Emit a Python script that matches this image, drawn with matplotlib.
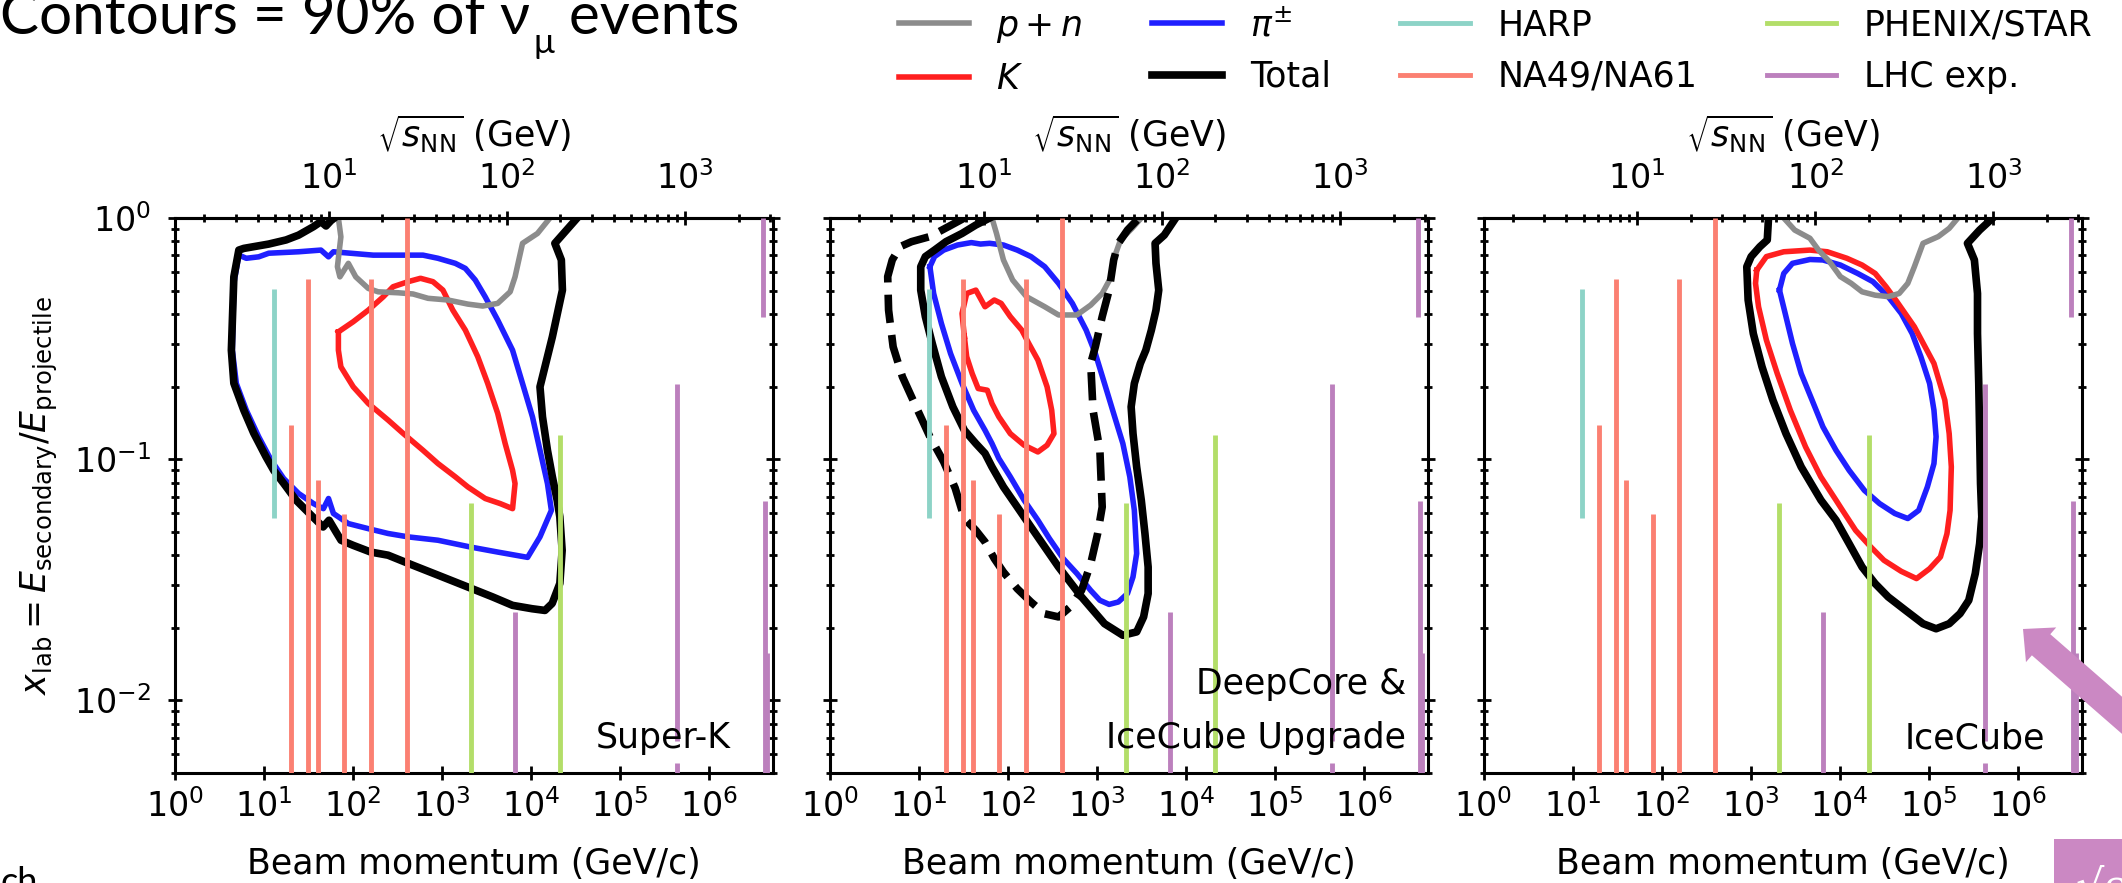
import numpy as np
import matplotlib
matplotlib.use("Agg")
import matplotlib.pyplot as plt
from matplotlib.lines import Line2D
from matplotlib.patches import FancyArrow, Rectangle
from matplotlib.ticker import LogLocator, NullLocator, NullFormatter

# 90% contours, digitised as (log10 beam momentum [GeV/c], log10 x_lab)
superk_pn = [(1.835, 0.0), (1.863, -0.078), (1.824, -0.202), (1.852, -0.244), (1.947, -0.188),
             (2.030, -0.244), (2.171, -0.292), (2.282, -0.306), (2.506, -0.310), (2.673, -0.315),
             (2.842, -0.333), (3.065, -0.340), (3.289, -0.357), (3.456, -0.365), (3.624, -0.354),
             (3.764, -0.306), (3.819, -0.244), (3.903, -0.105), (4.071, -0.064), (4.211, 0.0)]
superk_k = [(1.835, -0.472), (2.002, -0.430), (2.171, -0.382), (2.338, -0.327), (2.449, -0.285),
            (2.618, -0.264), (2.757, -0.250), (2.897, -0.264), (3.009, -0.299), (3.120, -0.382),
            (3.261, -0.465), (3.400, -0.575), (3.512, -0.686), (3.624, -0.810), (3.708, -0.935),
            (3.791, -1.046), (3.819, -1.101), (3.791, -1.205), (3.652, -1.184), (3.484, -1.163),
            (3.289, -1.115), (3.148, -1.073), (2.953, -1.018), (2.785, -0.963), (2.562, -0.893),
            (2.394, -0.838), (2.171, -0.769), (2.002, -0.700), (1.863, -0.617), (1.835, -0.548),
            (1.835, -0.472)]
superk_pi = [(0.717, -0.154), (0.801, -0.167), (0.940, -0.161), (1.053, -0.146), (1.388, -0.140),
             (1.639, -0.133), (1.724, -0.161), (1.779, -0.140), (2.226, -0.154), (2.785, -0.154),
             (2.953, -0.167), (3.148, -0.188), (3.261, -0.209), (3.372, -0.257), (3.484, -0.327),
             (3.624, -0.423), (3.791, -0.548), (3.903, -0.686), (4.015, -0.825), (4.099, -0.963),
             (4.183, -1.101), (4.227, -1.212), (4.099, -1.322), (3.960, -1.407), (3.624, -1.385),
             (3.316, -1.364), (2.953, -1.336), (2.618, -1.322), (2.393, -1.308), (2.171, -1.288),
             (1.947, -1.267), (1.779, -1.225), (1.724, -1.163), (1.667, -1.205), (1.555, -1.184),
             (1.388, -1.142), (1.220, -1.080), (1.080, -1.004), (0.940, -0.907), (0.801, -0.797),
             (0.689, -0.686), (0.644, -0.548), (0.661, -0.271), (0.717, -0.154)]
superk_total = [(1.790, 0.0), (1.751, -0.011), (1.696, -0.033), (1.639, -0.015), (1.555, -0.036),
                (1.388, -0.071), (1.247, -0.091), (1.053, -0.108), (0.773, -0.126), (0.717, -0.133),
                (0.661, -0.244), (0.633, -0.548), (0.661, -0.685), (0.773, -0.797), (0.884, -0.892),
                (1.022, -0.990), (1.108, -1.046), (1.220, -1.100), (1.360, -1.170), (1.528, -1.232),
                (1.663, -1.281), (1.730, -1.253), (1.809, -1.302), (1.865, -1.336), (2.000, -1.357),
                (2.198, -1.385), (2.393, -1.398), (2.674, -1.440), (2.955, -1.481), (3.289, -1.530),
                (3.567, -1.571), (3.791, -1.606), (4.011, -1.620), (4.155, -1.627), (4.236, -1.598),
                (4.322, -1.515), (4.348, -1.378), (4.322, -1.239), (4.292, -1.170), (4.238, -1.073),
                (4.183, -0.963), (4.127, -0.824), (4.099, -0.700), (4.238, -0.493), (4.351, -0.299),
                (4.339, -0.174), (4.266, -0.105), (4.517, 0.0)]

deepcore_pn = [(1.819, 0.0), (1.870, -0.064), (1.948, -0.174), (2.051, -0.257), (2.206, -0.326),
               (2.412, -0.368), (2.567, -0.402), (2.773, -0.402), (2.928, -0.361), (3.057, -0.313),
               (3.160, -0.243), (3.196, -0.160), (3.263, -0.091), (3.392, -0.043), (3.496, 0.0)]
deepcore_k = [(1.509, -0.492), (1.483, -0.396), (1.535, -0.313), (1.638, -0.299), (1.741, -0.368),
              (1.845, -0.340), (1.922, -0.354), (2.025, -0.409), (2.154, -0.465), (2.232, -0.520),
              (2.335, -0.589), (2.438, -0.700), (2.490, -0.797), (2.515, -0.894), (2.438, -0.942),
              (2.335, -0.970), (2.180, -0.942), (2.025, -0.894), (1.896, -0.824), (1.819, -0.769),
              (1.767, -0.714), (1.664, -0.707), (1.597, -0.645), (1.535, -0.575), (1.509, -0.492)]
deepcore_pi = [(1.122, -0.202), (1.174, -0.160), (1.277, -0.133), (1.432, -0.112), (1.587, -0.102),
               (1.690, -0.108), (1.793, -0.105), (1.948, -0.112), (2.103, -0.133), (2.257, -0.160),
               (2.412, -0.202), (2.567, -0.271), (2.722, -0.354), (2.877, -0.465), (2.980, -0.562),
               (3.083, -0.686), (3.186, -0.811), (3.289, -0.935), (3.367, -1.073), (3.418, -1.212),
               (3.444, -1.391), (3.403, -1.488), (3.341, -1.557), (3.238, -1.592), (3.135, -1.602),
               (3.031, -1.585), (2.928, -1.544), (2.773, -1.474), (2.619, -1.412), (2.464, -1.329),
               (2.335, -1.253), (2.180, -1.170), (2.025, -1.073), (1.896, -0.997), (1.819, -0.935),
               (1.741, -0.880), (1.613, -0.797), (1.483, -0.686), (1.354, -0.562), (1.251, -0.437),
               (1.164, -0.313), (1.122, -0.202)]
deepcore_total = [(1.793, 0.0), (1.638, -0.029), (1.483, -0.064), (1.303, -0.098), (1.174, -0.133),
                  (1.071, -0.160), (1.019, -0.202), (1.019, -0.299), (1.071, -0.409), (1.148, -0.520),
                  (1.251, -0.658), (1.380, -0.783), (1.509, -0.880), (1.638, -0.935), (1.741, -0.976),
                  (1.819, -1.032), (1.948, -1.115), (2.103, -1.198), (2.257, -1.281), (2.412, -1.364),
                  (2.567, -1.447), (2.825, -1.571), (3.083, -1.682), (3.289, -1.730), (3.444, -1.716),
                  (3.522, -1.654), (3.573, -1.557), (3.573, -1.447), (3.537, -1.308), (3.496, -1.170),
                  (3.444, -1.032), (3.403, -0.894), (3.382, -0.783), (3.418, -0.686), (3.485, -0.603),
                  (3.547, -0.548), (3.609, -0.465), (3.661, -0.382), (3.692, -0.299), (3.661, -0.188),
                  (3.651, -0.105), (3.754, -0.071), (3.883, 0.0)]
upgrade_total = [(1.509, 0.0), (1.329, -0.036), (1.122, -0.077), (0.916, -0.098), (0.787, -0.119),
                 (0.699, -0.174), (0.648, -0.243), (0.658, -0.382), (0.709, -0.534), (0.813, -0.658),
                 (0.967, -0.783), (1.122, -0.907), (1.277, -1.011), (1.406, -1.120), (1.509, -1.246),
                 (1.638, -1.295), (1.741, -1.343), (1.845, -1.412), (1.948, -1.468), (2.103, -1.537),
                 (2.257, -1.592), (2.412, -1.641), (2.567, -1.654), (2.696, -1.613), (2.825, -1.544),
                 (2.928, -1.433), (3.006, -1.308), (3.057, -1.198), (3.031, -0.963), (2.954, -0.797),
                 (2.928, -0.603), (2.980, -0.534), (3.057, -0.409), (3.135, -0.299), (3.186, -0.174),
                 (3.238, -0.105), (3.341, -0.050), (3.470, 0.0)]

icecube_pn = [(3.372, 0.0), (3.495, -0.050), (3.666, -0.084), (3.763, -0.133), (3.886, -0.181),
              (4.008, -0.243), (4.130, -0.271), (4.252, -0.306), (4.399, -0.320), (4.545, -0.326),
              (4.668, -0.313), (4.765, -0.271), (4.839, -0.202), (4.936, -0.105), (5.108, -0.077),
              (5.230, -0.043), (5.328, 0.0)]
icecube_k = [(3.069, -0.216), (3.177, -0.160), (3.372, -0.140), (3.666, -0.133), (3.861, -0.140),
             (4.081, -0.167), (4.252, -0.195), (4.399, -0.230), (4.521, -0.285), (4.643, -0.347),
             (4.839, -0.451), (5.059, -0.603), (5.181, -0.755), (5.230, -0.894), (5.254, -1.032),
             (5.240, -1.212), (5.205, -1.309), (5.132, -1.405), (5.010, -1.454), (4.863, -1.495),
             (4.692, -1.465), (4.497, -1.419), (4.350, -1.364), (4.179, -1.295), (4.032, -1.212),
             (3.959, -1.170), (3.788, -1.073), (3.617, -0.949), (3.446, -0.797), (3.299, -0.645),
             (3.177, -0.506), (3.089, -0.368), (3.055, -0.271), (3.069, -0.216)]
icecube_pi = [(3.324, -0.299), (3.372, -0.230), (3.470, -0.188), (3.666, -0.172), (3.812, -0.174),
              (4.008, -0.195), (4.203, -0.230), (4.374, -0.264), (4.545, -0.326), (4.692, -0.396),
              (4.814, -0.479), (4.912, -0.575), (5.010, -0.686), (5.059, -0.797), (5.083, -0.907),
              (5.059, -1.018), (4.985, -1.115), (4.888, -1.212), (4.765, -1.246), (4.619, -1.225),
              (4.448, -1.184), (4.277, -1.129), (4.106, -1.046), (3.959, -0.963), (3.812, -0.866),
              (3.690, -0.755), (3.568, -0.645), (3.470, -0.520), (3.397, -0.409), (3.324, -0.299)]
icecube_total = [(3.201, 0.0), (3.187, -0.091), (3.104, -0.119), (3.006, -0.160), (2.957, -0.202),
                 (2.972, -0.340), (3.030, -0.479), (3.128, -0.617), (3.250, -0.755), (3.397, -0.894),
                 (3.568, -1.032), (3.790, -1.170), (3.959, -1.253), (4.106, -1.350), (4.252, -1.447),
                 (4.399, -1.516), (4.545, -1.571), (4.741, -1.627), (4.936, -1.682), (5.083, -1.703),
                 (5.230, -1.682), (5.352, -1.640), (5.450, -1.585), (5.523, -1.474), (5.572, -1.350),
                 (5.596, -1.239), (5.582, -1.101), (5.572, -0.894), (5.562, -0.686), (5.548, -0.479),
                 (5.548, -0.313), (5.513, -0.174), (5.435, -0.105), (5.572, -0.050), (5.719, 0.0)]

# accelerator data coverage: beam momentum (GeV/c) and x_lab range
harp_p = [12.9]
harp_lo = [0.057]
harp_hi = [0.51]
na_p = [20, 31, 40, 80, 158, 400]
na_lo = [1e-3, 1e-3, 1e-3, 1e-3, 1e-3, 1e-3]
na_hi = [0.138, 0.558, 0.082, 0.059, 0.558, 1.0]
rhic_p = [2.1e3, 2.13e4]
rhic_lo = [1e-3, 1e-3]
rhic_hi = [0.066, 0.126]
lhc_p = [6.5e3, 4.3e5, 4.3e5, 4.0e6, 4.2e6, 4.5e6]
lhc_lo = [1e-3, 6.8e-3, 1e-3, 0.39, 1e-3, 1e-3]
lhc_hi = [0.0232, 0.205, 5.5e-3, 1.0, 0.067, 0.0157]

M_P = 0.938  # proton mass, GeV

GREY, RED, BLUE = "#8c8c8c", "#ff1f1f", "#1f1fff"
HARP_C, NA_C, RHIC_C, LHC_C = "#8dd3c7", "#fb8072", "#b3de69", "#bc80bd"
PINK = "#cb88c3"


def p_to_roots(p):
    return np.sqrt(2 * M_P * np.clip(p, 1e-12, None))


def roots_to_p(s):
    return np.asarray(s) ** 2 / (2 * M_P)


def draw_contour(ax, pts, color, lw, ls="-"):
    arr = np.array(pts)
    ax.plot(10 ** arr[:, 0], 10 ** arr[:, 1], color=color, lw=lw, ls=ls, zorder=2)


fig = plt.figure(figsize=(21.22, 8.83), dpi=100)
W, H = 2122.0, 883.0

panels = [
    (175, "Super-K", [(superk_pi, BLUE, 4, "-"), (superk_k, RED, 4, "-"),
                      (superk_pn, GREY, 4, "-"), (superk_total, "black", 5.5, "-")]),
    (830, "DeepCore &\nIceCube Upgrade", [(deepcore_pi, BLUE, 4, "-"), (deepcore_k, RED, 4, "-"),
                                          (deepcore_pn, GREY, 4, "-"), (upgrade_total, "black", 5.5, "--"),
                                          (deepcore_total, "black", 5.5, "-")]),
    (1483.5, "IceCube", [(icecube_pi, BLUE, 4, "-"), (icecube_k, RED, 4, "-"),
                         (icecube_pn, GREY, 4, "-"), (icecube_total, "black", 5.5, "-")]),
]

for i, (left_px, name, curves) in enumerate(panels):
    ax = fig.add_axes([left_px / W, 110 / H, 598 / W, 555 / H])
    ax.set_xscale("log")
    ax.set_yscale("log")
    ax.set_xlim(1, 5.2e6)
    ax.set_ylim(5e-3, 1)

    for p, lo, hi, c in [(harp_p, harp_lo, harp_hi, HARP_C), (na_p, na_lo, na_hi, NA_C),
                         (rhic_p, rhic_lo, rhic_hi, RHIC_C), (lhc_p, lhc_lo, lhc_hi, LHC_C)]:
        ax.vlines(p, lo, hi, colors=c, lw=3.5, zorder=3)

    for pts, c, lw, ls in curves:
        draw_contour(ax, pts, c, lw, ls)

    ax.set_xticks([1e0, 1e1, 1e2, 1e3, 1e4, 1e5, 1e6])
    ax.xaxis.set_minor_locator(NullLocator())
    ax.yaxis.set_major_locator(LogLocator(base=10, numticks=10))
    ax.yaxis.set_minor_locator(LogLocator(base=10, subs=np.arange(2, 10), numticks=20))
    ax.tick_params(which="both", direction="inout", width=2, left=True, right=True,
                   top=False, labelsize=24)
    ax.tick_params(which="major", length=10)
    ax.tick_params(which="minor", length=5.5)
    ax.tick_params(axis="x", pad=7)
    ax.tick_params(axis="y", pad=12)
    for s in ax.spines.values():
        s.set_linewidth(2.2)

    ax.set_xlabel("Beam momentum (GeV/c)", fontsize=25, labelpad=16)
    if i == 0:
        ax.set_ylabel(r"$x_{\rm lab} = E_{\rm secondary}/E_{\rm projectile}$", fontsize=25, labelpad=10)
    else:
        ax.yaxis.set_major_formatter(NullFormatter())
        ax.yaxis.set_minor_formatter(NullFormatter())

    sec = ax.secondary_xaxis("top", functions=(p_to_roots, roots_to_p))
    sec.xaxis.set_major_locator(LogLocator(base=10, numticks=10))
    sec.xaxis.set_minor_locator(LogLocator(base=10, subs=np.arange(2, 10), numticks=20))
    sec.tick_params(which="both", direction="inout", width=2, labelsize=24)
    sec.tick_params(which="major", length=10, pad=11)
    sec.tick_params(which="minor", length=5.5)
    sec.spines["top"].set_linewidth(2.2)
    sec.set_xlabel(r"$\sqrt{s_{\rm NN}}$ (GeV)", fontsize=25, labelpad=10)

    text_x = [0.93, 0.963, 0.939][i]
    ax.text(text_x, 0.032, name, transform=ax.transAxes, ha="right", va="bottom",
            fontsize=25, linespacing=1.75, multialignment="right", zorder=5)

# legend across the top
handles = [Line2D([], [], color=GREY, lw=4), Line2D([], [], color=RED, lw=4),
           Line2D([], [], color=BLUE, lw=4), Line2D([], [], color="black", lw=5.5),
           Line2D([], [], color=HARP_C, lw=3.5), Line2D([], [], color=NA_C, lw=3.5),
           Line2D([], [], color=RHIC_C, lw=3.5), Line2D([], [], color=LHC_C, lw=3.5)]
labels = [r"$p + n$", r"$K$", r"$\pi^{\pm}$", "Total", "HARP", "NA49/NA61", "PHENIX/STAR", "LHC exp."]
fig.legend(handles, labels, ncol=4, loc="center", bbox_to_anchor=(1496 / W, 1 - 52 / H),
           frameon=False, fontsize=25)

# slide heading
slide_font = ["Lato", "DejaVu Sans"]
t1 = fig.text(0.0, 1 - 34 / H, "Contours = 90% of ν", fontsize=42, family=slide_font, va="baseline")
renderer = fig.canvas.get_renderer()
bb1 = t1.get_window_extent(renderer)
t2 = fig.text((bb1.x1 + 3) / W, 1 - 53 / H, "μ", fontsize=25, family=slide_font, va="baseline")
bb2 = t2.get_window_extent(renderer)
fig.text(bb2.x1 / W, 1 - 34 / H, " events", fontsize=42, family=slide_font, va="baseline")

fig.text(0.0, 1 - 893 / H, "ch", fontsize=26, family=slide_font, va="baseline")

# pink arrow and box at the right edge
fig.add_artist(FancyArrow(22.49, 0.57, -2.26, 1.97, width=0.28, head_width=0.46, head_length=0.24,
                          length_includes_head=True, color=PINK, lw=0,
                          transform=fig.dpi_scale_trans))
fig.add_artist(Rectangle((20.54, -0.1), 1.0, 0.54, color=PINK, lw=0, transform=fig.dpi_scale_trans))
fig.text(2076 / W, 1 - 900 / H, "√s", fontsize=32, color="white", family="DejaVu Serif",
         style="italic", va="baseline")

fig.savefig("out.png", dpi=100)
